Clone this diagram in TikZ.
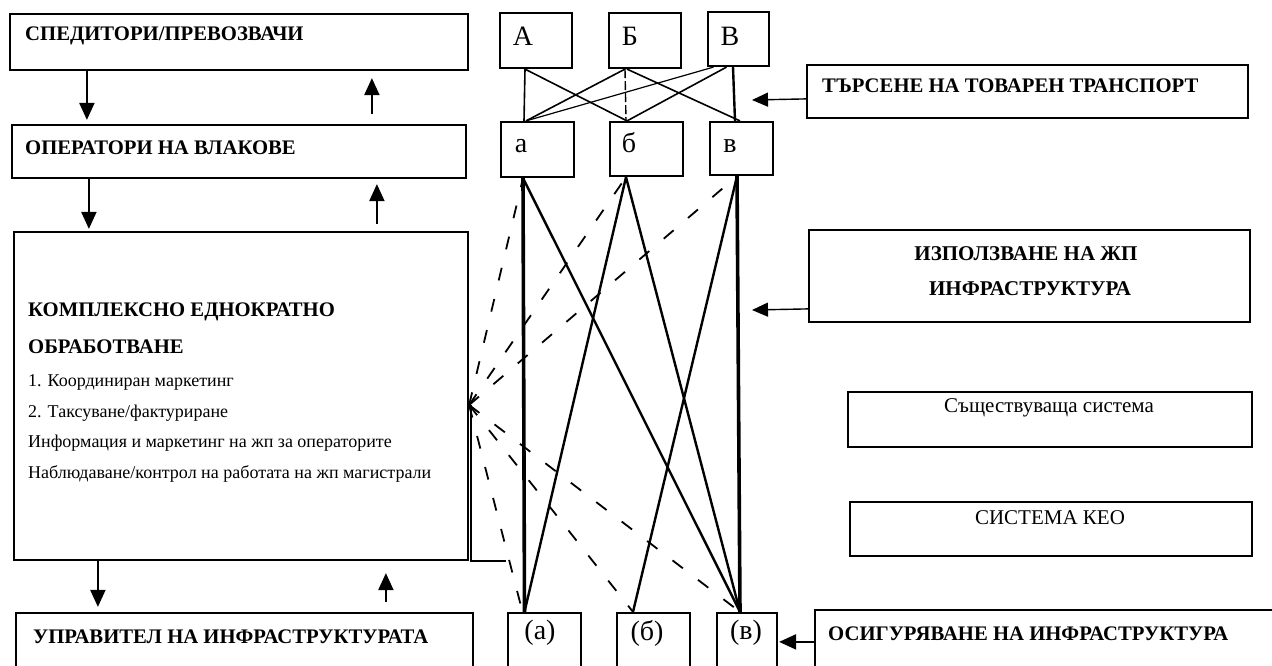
\documentclass[tikz,border=0pt]{standalone}
\usepackage{fontspec}
\setmainfont{Liberation Serif}
\usetikzlibrary{arrows.meta,calc}
\begin{document}
\begin{tikzpicture}[x=1pt,y=-1pt,
  box/.style={draw,line width=2.2pt,rectangle,inner sep=0pt},
  hd/.style={font=\bfseries\fontsize{20.7}{24}\selectfont,inner sep=0pt,anchor=west},
  hdc/.style={font=\bfseries\fontsize{21}{25}\selectfont,inner sep=0pt},
  itm/.style={font=\fontsize{18}{21}\selectfont,inner sep=0pt,anchor=west},
  rg/.style={font=\fontsize{21}{25}\selectfont,inner sep=0pt},
  big/.style={font=\fontsize{28}{30}\selectfont,inner sep=0pt},
  arr/.style={line width=2pt,-{Triangle[length=17pt,width=15pt]}},
  sarr/.style={line width=1.4pt,-{Triangle[length=16pt,width=14pt]}},
  lnk/.style={line width=1.6pt},
  lnkw/.style={line width=2.4pt},
  thk/.style={line width=3.6pt},
  dsh/.style={line width=1.8pt,dash pattern=on 13pt off 19pt},
  fdsh/.style={line width=1.4pt,dash pattern=on 9pt off 3pt},
]
\useasboundingbox (0,0) rectangle (1272,665);
\clip (0,0) rectangle (1272,665);
\fill[white] (0,0) rectangle (1272,665);

% left column
\node[box,minimum width=458,minimum height=56] (sp) at (239,42) {};
\node[box,minimum width=454,minimum height=53] (op) at (239,151.5) {};
\node[box,minimum width=454,minimum height=328] (keo) at (241,396) {};
\node[box,minimum width=457,minimum height=87] (up) at (244.5,656.5) {};

\node[hd] (tsp) at (25,36) {СПЕДИТОРИ/ПРЕВОЗВАЧИ};
\node[hd] (top) at (25,148) {ОПЕРАТОРИ НА ВЛАКОВЕ};
\node[hd] (tk1) at (28,312) {КОМПЛЕКСНО ЕДНОКРАТНО};
\node[hd] (tk2) at (28,347) {ОБРАБОТВАНЕ};
\node[itm] (tk3) at (28,382) {1. Координиран маркетинг};
\node[itm] (tk4) at (28,413) {2. Таксуване/фактуриране};
\node[itm] (tk5) at (28,443) {Информация и маркетинг на жп за операторите};
\node[itm] (tk6) at (28,474) {Наблюдаване/контрол на работата на жп магистрали};
\node[hd] (tup) at (33,637) {УПРАВИТЕЛ НА ИНФРАСТРУКТУРАТА};

% left column arrows
\draw[arr,shorten >=4pt] ($(sp.south west)+(78,0)$) -- ($(op.north west)+(76,0)$);
\draw[arr,shorten <=10pt,shorten >=7pt] ($(op.north west)+(361,0)$) -- ($(sp.south west)+(363,0)$);
\draw[arr,shorten >=2pt] ($(op.south west)+(78,0)$) -- ($(keo.north west)+(76,0)$);
\draw[arr,shorten <=7pt,shorten >=5pt] ($(keo.north west)+(364,0)$) -- ($(op.south west)+(366,0)$);
\draw[arr,shorten >=5pt] ($(keo.south west)+(85,0)$) -- ($(up.north west)+(83,0)$);
\draw[arr,shorten <=10pt,shorten >=12pt] ($(up.north west)+(371,0)$) -- ($(keo.south west)+(373,0)$);

% middle boxes
\node[box,minimum width=72,minimum height=55] (A) at (536,40.5) {};
\node[box,minimum width=72,minimum height=55] (B) at (645,40.5) {};
\node[box,minimum width=61,minimum height=54] (V) at (738.5,39) {};
\node[box,minimum width=73,minimum height=55] (a) at (537.5,149.5) {};
\node[box,minimum width=73,minimum height=54] (b) at (646.5,149) {};
\node[box,minimum width=63,minimum height=53] (v) at (741.5,148.5) {};
\node[box,minimum width=73,minimum height=87] (pa) at (544.5,656.5) {};
\node[box,minimum width=73,minimum height=87] (pb) at (653.5,656.5) {};
\node[box,minimum width=60,minimum height=87] (pv) at (747,656.5) {};

\node[big] (tA) at (523,36) {А};
\node[big] (tB) at (630,36) {Б};
\node[big] (tV) at (730,36) {В};
\node[big] (ta) at (521,146) {а};
\node[big] (tb) at (629,143) {б};
\node[big] (tv) at (730,146) {в};
\node[big] (tpa) at (540,633) {(а)};
\node[big] (tpb) at (647,633) {(б)};
\node[big] (tpv) at (746,633) {(в)};

% top links
\draw[lnk] ($(A.south)+(-11,0)$) -- ($(a.north)+(-13.5,0)$);
\draw[lnk] ($(A.south)+(-11,0)$) -- ($(b.north)+(-19.5,0)$);
\draw[lnk] ($(B.south)+(-20,0)$) -- ($(a.north)+(-11.5,0)$);
\draw[fdsh] ($(B.south)+(-20,0)$) -- ($(b.north)+(-20.5,0)$);
\draw[lnk] ($(B.south)+(-18,0)$) -- ($(v.north)+(-1.5,0)$);
\draw[lnk,line width=1.2pt] ($(V.south)+(-25,0)$) -- ($(a.north)+(-11.5,0)$);
\draw[lnk] ($(V.south)+(-12,0)$) -- ($(b.north)+(-19.5,0)$);
\draw[lnkw] ($(V.south)+(-5.5,0)$) -- ($(v.north)+(-6.5,0)$);

% lower links
\draw[thk] ($(a.south)+(-14.5,0)$) -- ($(pa.north)+(-20,0)$);
\draw[lnkw] ($(a.south)+(-14.5,0)$) -- ($(pv.north)+(-7,0)$);
\draw[lnkw] ($(b.south)+(-20.5,0)$) -- ($(pa.north)+(-20,0)$);
\draw[lnkw] ($(b.south)+(-20.5,0)$) -- ($(pv.north)+(-7,0)$);
\draw[lnkw] ($(v.south)+(-4.5,0)$) -- ($(pb.north)+(-20.5,0)$);
\draw[thk] ($(v.south)+(-4.5,0)$) -- ($(pv.north)+(-7,0)$);

% dashed fan from the KEO box
\coordinate (J) at ($(keo.east)+(0,9)$);
\draw[lnkw] ($(J)+(2,0)$) |- ($(keo.south east)+(37,0)$);
\draw[dsh] (J) -- ($(a.south)+(-14.5,0)$);
\draw[dsh] (J) -- ($(b.south)+(-20.5,0)$);
\draw[dsh] (J) -- ($(v.south)+(-4.5,0)$);
\draw[dsh] (J) -- ($(pa.north)+(-22,0)$);
\draw[dsh] (J) -- ($(pb.north)+(-20.5,0)$);
\draw[dsh] (J) -- ($(pv.north)+(-7,0)$);

% right column
\node[box,minimum width=441,minimum height=53] (ts) at (1027.5,91.5) {};
\node[box,minimum width=441,minimum height=92] (iz) at (1029.5,276) {};
\node[box,minimum width=404,minimum height=55] (sus) at (1050,419.5) {};
\node[box,minimum width=402,minimum height=54] (sk) at (1051,529) {};
\node[box,minimum width=475,minimum height=90] (os) at (1052.5,655) {};

\node[hd] (tts) at (822,86) {ТЪРСЕНЕ НА ТОВАРЕН ТРАНСПОРТ};
\node[hdc] (tiz1) at (1026,254) {ИЗПОЛЗВАНЕ НА ЖП};
\node[hdc] (tiz2) at (1030,289) {ИНФРАСТРУКТУРА};
\node[rg] (tsus) at (1049,408) {Съществуваща система};
\node[rg] (tsk) at (1050,518) {СИСТЕМА КЕО};
\node[hd] (tos) at (828,634) {ОСИГУРЯВАНЕ НА ИНФРАСТРУКТУРА};

\coordinate (tsend) at (752,100);
\coordinate (izend) at (752,310);
\draw[sarr] ($(ts.north west)+(0,35)$) -- (tsend);
\draw[sarr] ($(iz.north west)+(0,80)$) -- (izend);
\draw[arr] ($(os.north west)+(0,33)$) -- ($(pv.north east)+(1,30)$);
\end{tikzpicture}
\end{document}
